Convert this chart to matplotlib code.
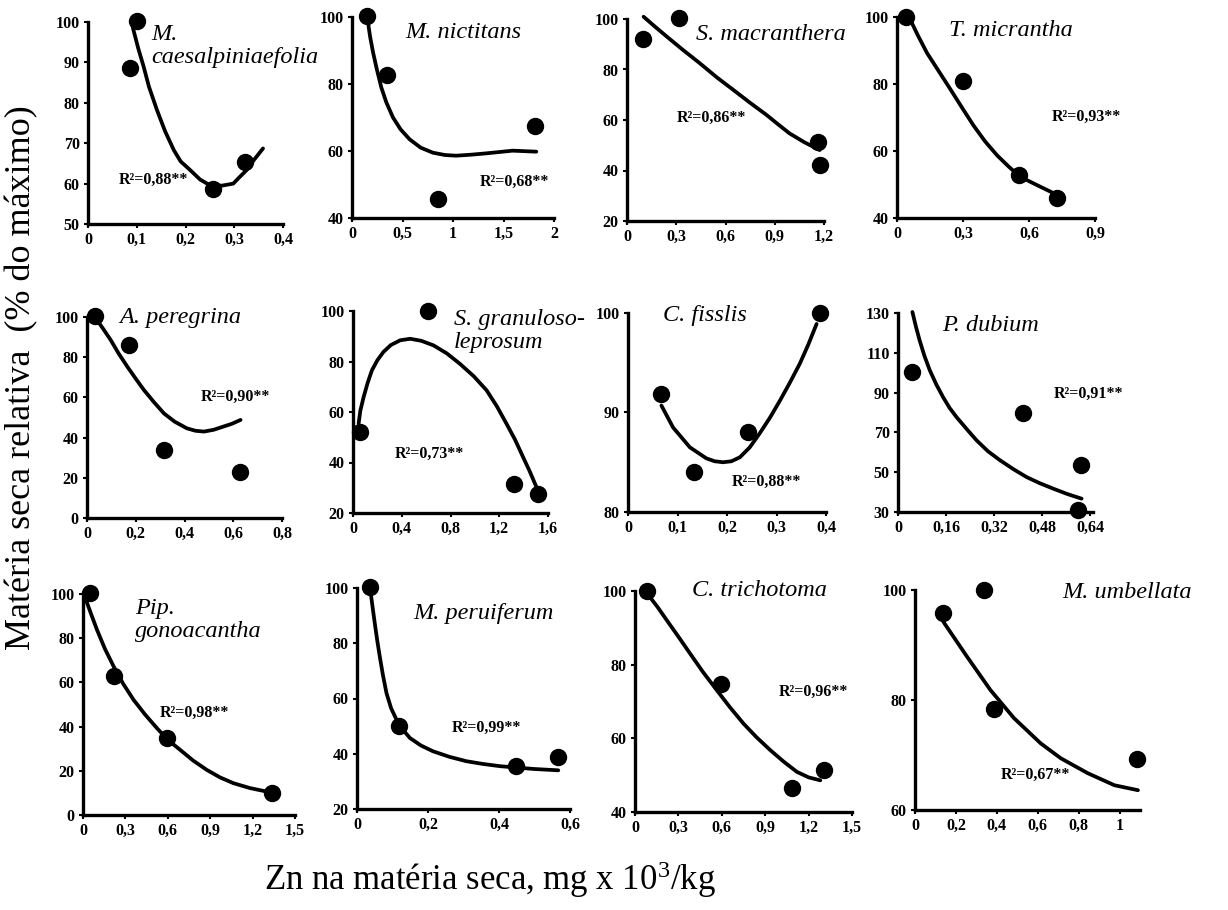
import matplotlib
matplotlib.use("Agg")
import matplotlib.pyplot as plt

plt.rcParams['font.family'] = ['Liberation Serif', 'DejaVu Serif']
plt.rcParams['mathtext.fontset'] = 'custom'
plt.rcParams['mathtext.rm'] = 'Liberation Serif'
plt.rcParams['mathtext.it'] = 'Liberation Serif:italic'
plt.rcParams['mathtext.bf'] = 'Liberation Serif:bold'

# ---------------- data ----------------
species = ["M.\ncaesalpiniaefolia", "M. nictitans", "S. macranthera", "T. micrantha",
           "A. peregrina", "S. granuloso-\nleprosum", "C. fisslis", "P. dubium",
           "Pip.\ngonoacantha", "M. peruiferum", "C. trichotoma", "M. umbellata"]

r2_labels = ["R²=0,88**", "R²=0,68**", "R²=0,86**", "R²=0,93**",
             "R²=0,90**", "R²=0,73**", "R²=0,88**", "R²=0,91**",
             "R²=0,98**", "R²=0,99**", "R²=0,96**", "R²=0,67**"]

x_obs = [[0.087, 0.10, 0.257, 0.322],
         [0.15, 0.35, 0.85, 1.815],
         [0.095, 0.318, 1.164, 1.174],
         [0.042, 0.30, 0.553, 0.727],
         [0.033, 0.173, 0.316, 0.627],
         [0.06, 0.613, 1.319, 1.521],
         [0.0675, 0.133, 0.243, 0.388],
         [0.048, 0.415, 0.61, 0.599],
         [0.052, 0.217, 0.593, 1.335],
         [0.036, 0.118, 0.448, 0.567],
         [0.081, 0.593, 1.085, 1.309],
         [0.139, 0.339, 0.385, 1.087]]

y_obs = [[88.6, 100.2, 58.7, 65.4],
         [100.3, 82.6, 45.6, 67.6],
         [92.1, 100.3, 51.4, 42.2],
         [100.0, 81.0, 52.8, 45.9],
         [100.3, 86.0, 33.9, 23.1],
         [52.1, 100.0, 31.4, 27.7],
         [91.9, 84.0, 88.0, 100.0],
         [100.4, 79.7, 53.4, 30.8],
         [100.5, 63.0, 34.7, 10.1],
         [100.2, 50.2, 35.5, 38.8],
         [100.0, 74.7, 46.6, 51.3],
         [95.8, 100.0, 78.3, 69.2]]

fit_x = [[0.092, 0.103, 0.114, 0.125, 0.1415, 0.158, 0.176, 0.19, 0.21, 0.23, 0.25, 0.275, 0.298, 0.31, 0.325, 0.34, 0.359],
         [0.15, 0.165, 0.18, 0.208, 0.245, 0.29, 0.34, 0.406, 0.48, 0.57, 0.68, 0.80, 0.92, 1.03, 1.18, 1.33, 1.59, 1.825],
         [0.101, 0.17, 0.243, 0.34, 0.445, 0.545, 0.648, 0.75, 0.85, 0.92, 0.99, 1.08, 1.174],
         [0.053, 0.095, 0.136, 0.19, 0.242, 0.295, 0.348, 0.40, 0.455, 0.51, 0.56, 0.64, 0.712],
         [0.037, 0.067, 0.098, 0.13, 0.166, 0.20, 0.234, 0.275, 0.316, 0.36, 0.41, 0.445, 0.48, 0.52, 0.56, 0.595, 0.63],
         [0.046, 0.06, 0.087, 0.12, 0.155, 0.20, 0.25, 0.31, 0.387, 0.469, 0.56, 0.66, 0.77, 0.877, 0.99, 1.096, 1.18, 1.259, 1.33, 1.395, 1.45, 1.504],
         [0.0675, 0.091, 0.125, 0.158, 0.175, 0.192, 0.209, 0.226, 0.246, 0.266, 0.287, 0.307, 0.327, 0.347, 0.364, 0.381],
         [0.048, 0.06, 0.072, 0.088, 0.106, 0.128, 0.15, 0.172, 0.195, 0.23, 0.262, 0.30, 0.34, 0.385, 0.428, 0.472, 0.518, 0.565, 0.612],
         [0.016, 0.057, 0.099, 0.155, 0.217, 0.285, 0.358, 0.44, 0.523, 0.60, 0.687, 0.78, 0.876, 0.97, 1.064, 1.18, 1.30],
         [0.038, 0.044, 0.05, 0.057, 0.064, 0.073, 0.083, 0.096, 0.111, 0.13, 0.149, 0.18, 0.214, 0.26, 0.308, 0.355, 0.403, 0.45, 0.497, 0.567],
         [0.092, 0.155, 0.219, 0.30, 0.381, 0.47, 0.565, 0.655, 0.75, 0.84, 0.935, 1.03, 1.119, 1.20, 1.281],
         [0.139, 0.254, 0.369, 0.484, 0.615, 0.713, 0.844, 0.975, 1.09]]

fit_y = [[98.6, 93.5, 89.0, 84.0, 78.2, 73.0, 68.3, 65.5, 63.3, 61.0, 59.6, 59.5, 60.0, 61.5, 63.3, 65.8, 68.7],
         [102.0, 97.0, 94.0, 89.5, 84.5, 79.0, 74.5, 70.0, 66.5, 63.5, 61.0, 59.5, 58.8, 58.6, 58.9, 59.3, 60.1, 59.8],
         [100.9, 97.0, 93.0, 87.8, 82.4, 77.0, 71.9, 66.8, 62.0, 58.3, 54.7, 51.2, 48.1],
         [100.2, 94.5, 89.3, 83.8, 78.5, 73.0, 67.6, 62.9, 58.7, 55.2, 52.3, 49.7, 47.4],
         [99.2, 94.0, 88.4, 81.8, 75.2, 69.3, 63.6, 57.6, 52.0, 47.9, 44.6, 43.4, 43.0, 43.9, 45.5, 46.9, 48.8],
         [55.4, 60.5, 65.9, 71.5, 76.5, 80.5, 83.8, 86.5, 88.4, 89.0, 88.2, 86.4, 83.2, 79.1, 74.2, 68.6, 62.3, 55.4, 49.0, 42.2, 36.5, 30.4],
         [90.7, 88.5, 86.5, 85.4, 85.1, 85.0, 85.1, 85.5, 86.5, 87.9, 89.5, 91.2, 93.0, 94.9, 96.8, 98.9],
         [130.5, 123.0, 116.3, 108.5, 101.2, 94.0, 87.8, 82.3, 77.7, 71.5, 66.0, 60.5, 56.0, 51.5, 47.6, 44.5, 41.7, 39.0, 36.7],
         [98.2, 91.0, 83.8, 75.2, 67.2, 59.3, 52.1, 45.4, 39.3, 34.0, 29.5, 24.6, 20.4, 17.0, 14.4, 12.2, 10.6],
         [98.8, 93.0, 87.3, 81.0, 75.3, 68.5, 62.0, 56.5, 52.4, 48.6, 45.7, 43.0, 40.9, 38.9, 37.3, 36.3, 35.5, 35.0, 34.5, 34.0],
         [98.9, 95.7, 92.1, 87.6, 83.0, 78.0, 73.1, 68.5, 64.0, 60.3, 56.8, 53.6, 50.9, 49.4, 48.6],
         [94.2, 87.9, 81.8, 76.7, 72.1, 69.4, 66.7, 64.5, 63.6]]

r2_pos_x = [0.063, 1.264, 0.30, 0.705, 0.466, 0.346, 0.209, 0.518, 0.546, 0.266, 0.992, 0.418]
r2_pos_y = [60.8, 50.9, 60.7, 70.1, 60.3, 43.5, 83.0, 89.5, 46.1, 49.3, 72.6, 66.4]

xticks = [[0, 0.1, 0.2, 0.3, 0.4], [0, 0.5, 1, 1.5, 2], [0, 0.3, 0.6, 0.9, 1.2], [0, 0.3, 0.6, 0.9],
          [0, 0.2, 0.4, 0.6, 0.8], [0, 0.4, 0.8, 1.2, 1.6], [0, 0.1, 0.2, 0.3, 0.4], [0, 0.16, 0.32, 0.48, 0.64],
          [0, 0.3, 0.6, 0.9, 1.2, 1.5], [0, 0.2, 0.4, 0.6], [0, 0.3, 0.6, 0.9, 1.2, 1.5], [0, 0.2, 0.4, 0.6, 0.8, 1]]
xlabels = [["0", "0,1", "0,2", "0,3", "0,4"], ["0", "0,5", "1", "1,5", "2"], ["0", "0,3", "0,6", "0,9", "1,2"],
           ["0", "0,3", "0,6", "0,9"], ["0", "0,2", "0,4", "0,6", "0,8"], ["0", "0,4", "0,8", "1,2", "1,6"],
           ["0", "0,1", "0,2", "0,3", "0,4"], ["0", "0,16", "0,32", "0,48", "0,64"],
           ["0", "0,3", "0,6", "0,9", "1,2", "1,5"], ["0", "0,2", "0,4", "0,6"],
           ["0", "0,3", "0,6", "0,9", "1,2", "1,5"], ["0", "0,2", "0,4", "0,6", "0,8", "1"]]
yticks = [[50, 60, 70, 80, 90, 100], [40, 60, 80, 100], [20, 40, 60, 80, 100], [40, 60, 80, 100],
          [0, 20, 40, 60, 80, 100], [20, 40, 60, 80, 100], [80, 90, 100], [30, 50, 70, 90, 110, 130],
          [0, 20, 40, 60, 80, 100], [20, 40, 60, 80, 100], [40, 60, 80, 100], [60, 80, 100]]
x_max = [0.4, 2, 1.2, 0.9, 0.8, 1.6, 0.4, 0.65, 1.5, 0.6, 1.5, 1.1]

# ---------------- layout (pixels) ----------------
W, H = 1228, 910
rects = [(88, 22, 283, 224), (352, 17, 554, 218), (627, 19, 824, 221), (897, 17, 1095, 218),
         (87, 317, 282, 518), (353, 311, 548, 513), (628, 313, 826, 512), (898, 313, 1093, 512),
         (83, 594, 295, 815), (357, 588, 570, 809), (635, 591, 852, 812), (915, 590, 1140, 810)]
name_pos = [(151, 46), (405, 33), (696, 34), (949, 30),
            (119, 317), (454, 331), (663, 315), (942, 325),
            (135, 620), (413, 613), (692, 590), (1062, 593)]

fig = plt.figure(figsize=(W / 100, H / 100), dpi=100)

for i in range(12):
    l, t, r, b = rects[i]
    ax = fig.add_axes([l / W, 1 - b / H, (r - l) / W, (b - t) / H])
    ax.plot(fit_x[i], fit_y[i], color='black', lw=2.7, solid_capstyle='round',
            solid_joinstyle='round', clip_on=False, zorder=2)
    ax.plot(x_obs[i], y_obs[i], 'o', color='black', ms=11.5, clip_on=False, zorder=3)
    ax.set_xlim(0, x_max[i])
    ax.set_ylim(yticks[i][0], yticks[i][-1])
    ax.set_xticks(xticks[i])
    ax.set_xticklabels(xlabels[i])
    ax.set_yticks(yticks[i])
    ax.set_yticklabels([str(v) for v in yticks[i]])
    for lab in ax.get_xticklabels() + ax.get_yticklabels():
        lab.set_fontweight('bold')
        lab.set_fontsize(11.5)
    ax.tick_params(direction='out', length=3, width=1.5, pad=3)
    ax.spines['top'].set_visible(False)
    ax.spines['right'].set_visible(False)
    ax.spines['left'].set_linewidth(2.4)
    ax.spines['bottom'].set_linewidth(2.4)
    ax.patch.set_alpha(0)
    ax.text(r2_pos_x[i], r2_pos_y[i], r2_labels[i], fontsize=11.5, fontweight='bold',
            ha='left', va='center')
    nx, ny = name_pos[i]
    fig.text(nx / W, 1 - ny / H, species[i], fontsize=17.5, style='italic',
             ha='left', va='center', linespacing=1.15)

fig.text(22 / W, 1 - 378 / H, "Matéria seca relativa  (% do máximo)", rotation=90,
         fontsize=26, ha='center', va='center')
fig.text(490 / W, 1 - 880 / H, r"Zn na matéria seca, mg x 10$^{3}$/kg",
         fontsize=25, ha='center', va='center')

fig.savefig("out.png", dpi=100)
